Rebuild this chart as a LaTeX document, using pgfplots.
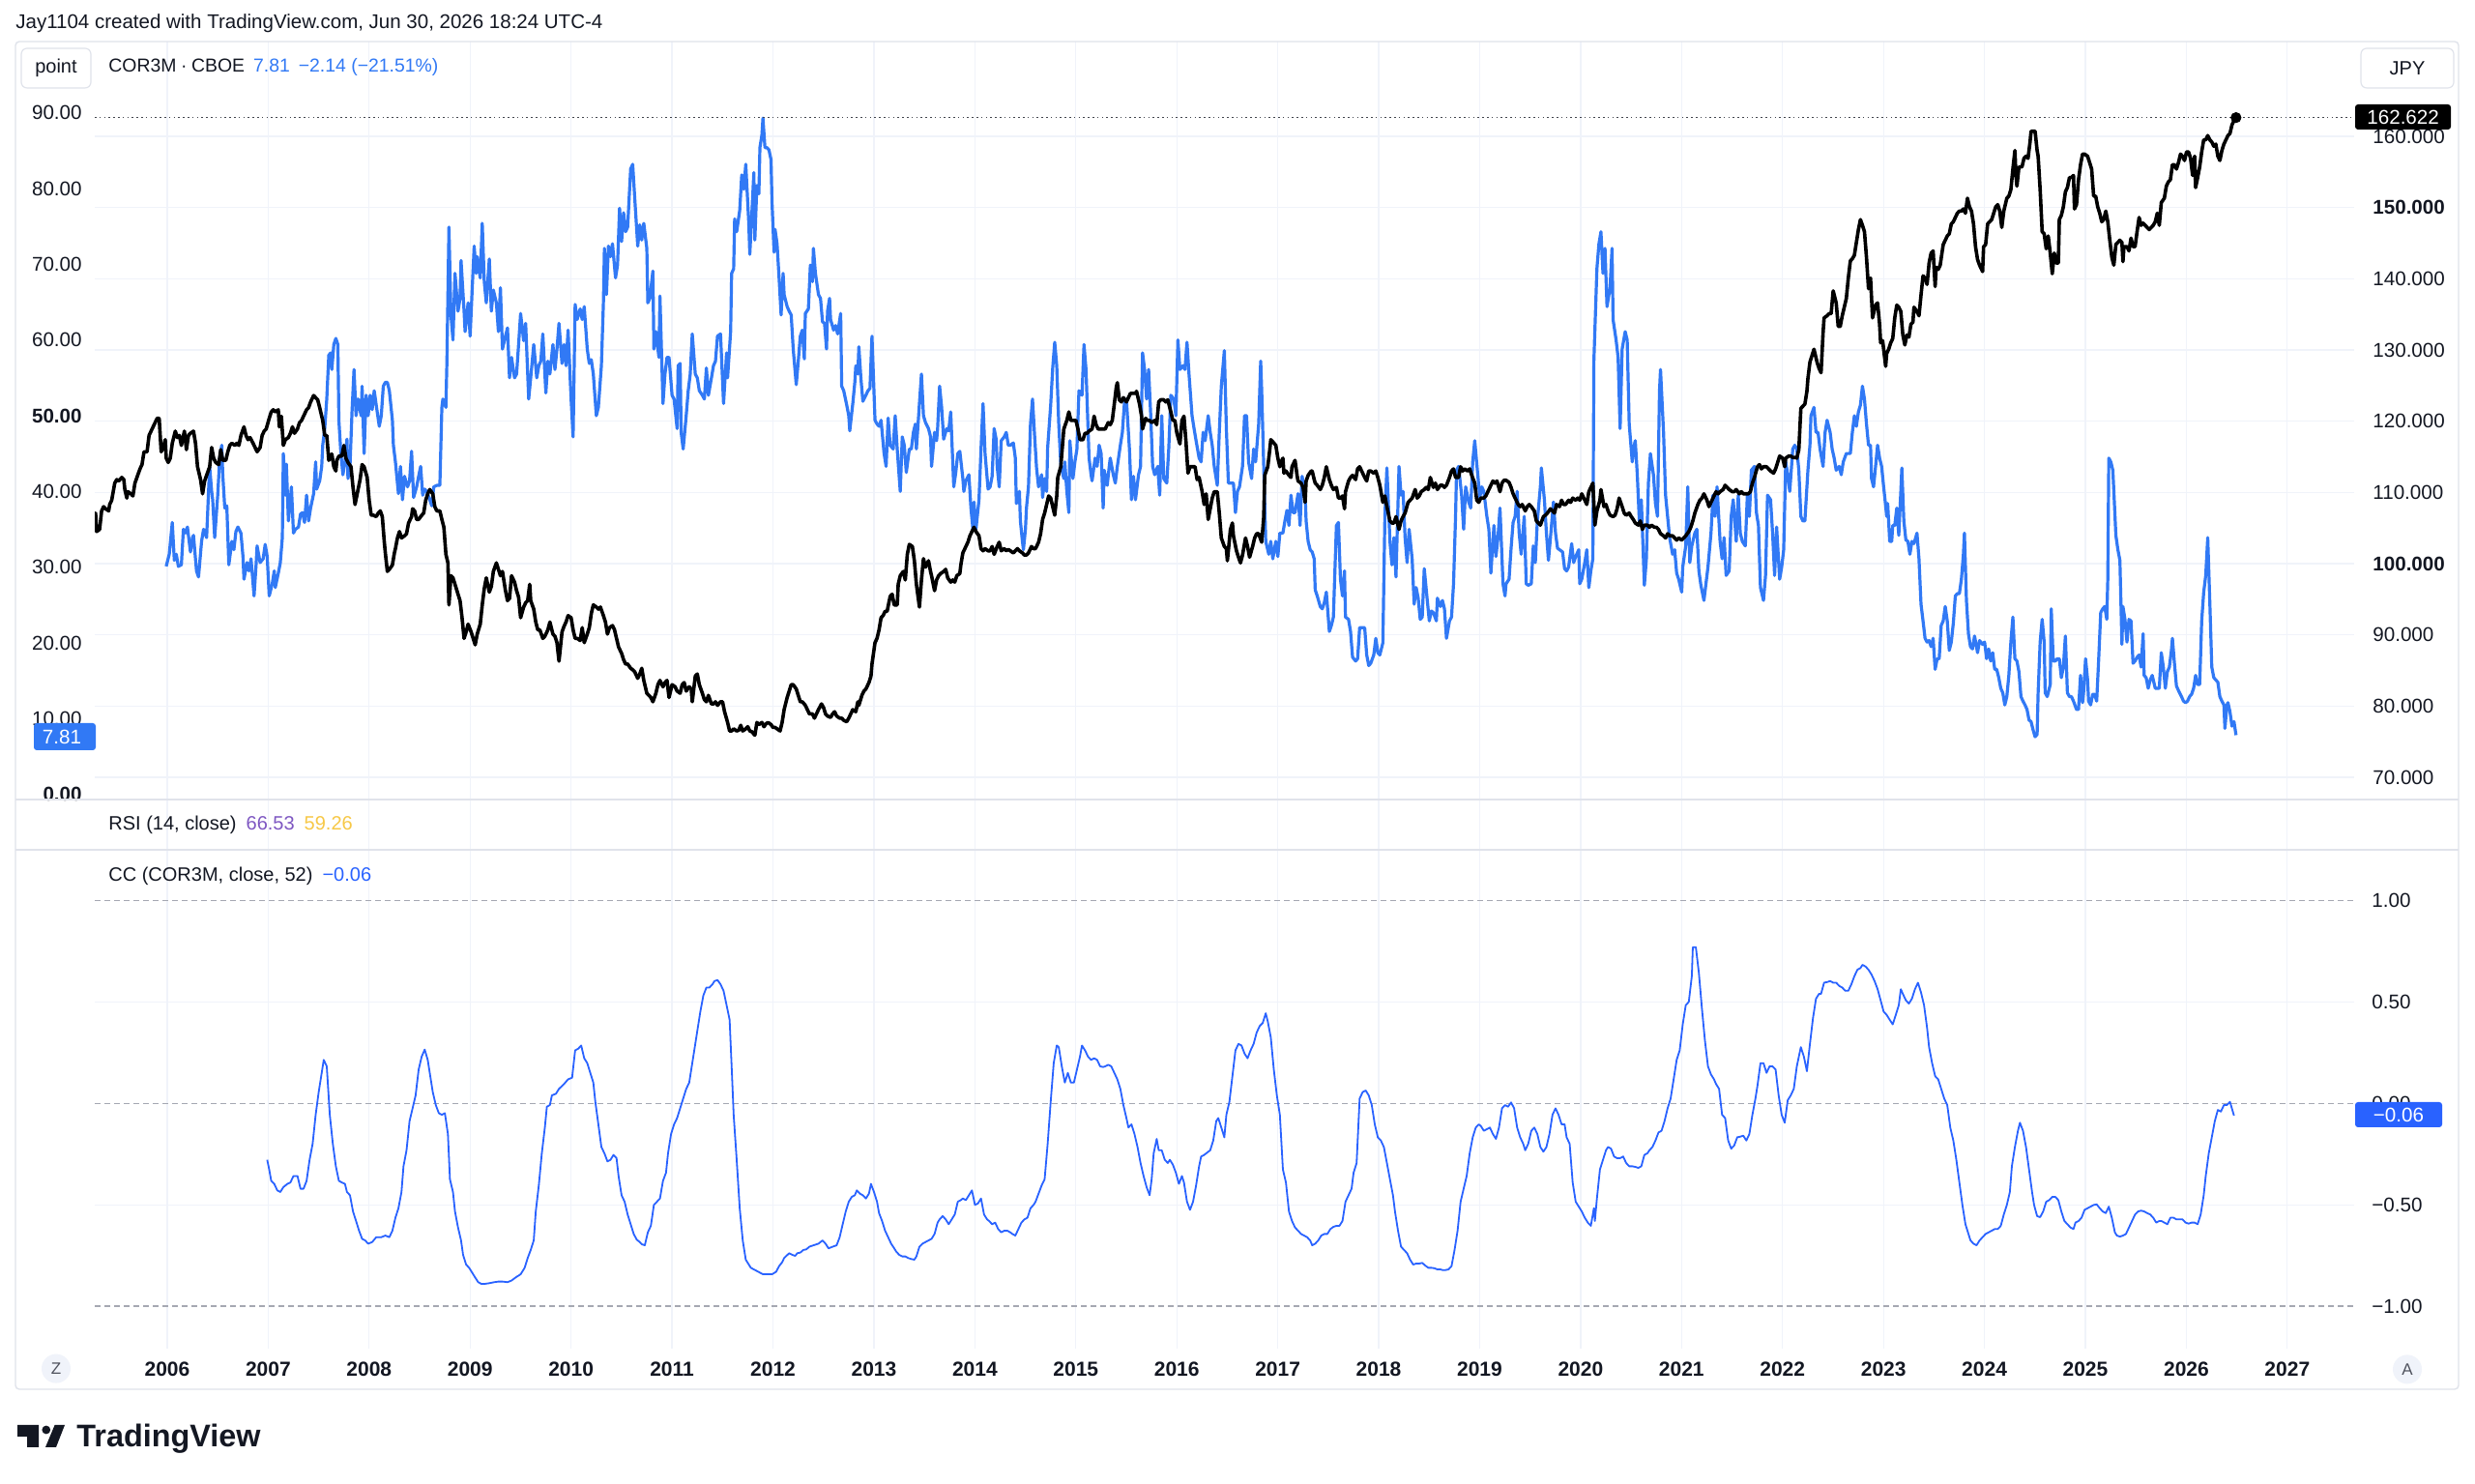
\documentclass[border=0pt]{standalone}
\usepackage{fontspec}
\setmainfont{Liberation Sans}
\usepackage{pgfplots}
\pgfplotsset{compat=1.18}
\definecolor{tvtext}{RGB}{19,23,34}
\definecolor{tvgrid}{RGB}{240,243,250}
\definecolor{tvframe}{RGB}{224,227,235}
\definecolor{tvblue}{RGB}{49,121,245}
\definecolor{ccblue}{RGB}{41,98,255}
\definecolor{tvdash}{RGB}{165,168,178}
\definecolor{rsipurple}{RGB}{126,87,194}
\definecolor{rsiyellow}{RGB}{247,200,70}
\definecolor{btnfill}{RGB}{240,243,250}
\definecolor{tvgray}{RGB}{80,83,94}
\pgfplotsset{
 tvbase/.style={scale only axis, anchor=south west, width=1168.5pt,
   xmin=2005.282, xmax=2027.66,
   axis line style={draw=none}, major tick length=0pt, tick style={draw=none},
   xtick={2006,...,2027},
   tick label style={font=\fontsize{10.3}{12}\selectfont, text=tvtext}},
}
\begin{document}
\begin{tikzpicture}[x=1pt,y=1pt]
\useasboundingbox (0pt,0pt) rectangle (1280pt,767.5pt);
\fill[white] (0pt,0pt) rectangle (1280pt,767.5pt);

% ---------------- CC pane ----------------
\begin{axis}[tvbase, at={(49pt,70pt)}, height=284pt, ymin=-1.21, ymax=1.5,
  xticklabels={2006,2007,2008,2009,2010,2011,2012,2013,2014,2015,2016,2017,2018,2019,2020,2021,2022,2023,2024,2025,2026,2027},
  xticklabel style={font=\bfseries\fontsize{10.5}{12}\selectfont, anchor=center, inner sep=0pt, yshift=-10.5pt},
  xmajorgrids, ymajorgrids, grid style={tvgrid, line width=0.6pt},
  ytick={-0.5,0.5}, yticklabels={−0.50,0.50},
  extra y ticks={-1,0,1}, extra y tick labels={−1.00,0.00,1.00},
  extra y tick style={grid=none},
  yticklabel pos=right,
  yticklabel style={anchor=west, inner sep=0pt, xshift=9pt}]
\addplot[tvdash, line width=0.6pt, dash pattern=on 3pt off 2pt] coordinates {(2005.282,1) (2027.66,1)};
\addplot[tvdash, line width=0.6pt, dash pattern=on 3pt off 2pt] coordinates {(2005.282,0) (2027.66,0)};
\addplot[tvdash, line width=0.6pt, dash pattern=on 3pt off 2pt] coordinates {(2005.282,-1) (2027.66,-1)};
\addplot[ccblue, line width=0.9pt, line join=round] table {
2006.99 -0.278
2007.01 -0.326
2007.03 -0.382
2007.06 -0.397
2007.09 -0.429
2007.12 -0.437
2007.15 -0.413
2007.19 -0.397
2007.22 -0.390
2007.25 -0.358
2007.29 -0.358
2007.32 -0.421
2007.35 -0.421
2007.38 -0.382
2007.41 -0.278
2007.44 -0.199
2007.47 -0.056
2007.50 0.056
2007.53 0.151
2007.55 0.215
2007.58 0.183
2007.61 -0.056
2007.64 -0.199
2007.67 -0.310
2007.70 -0.382
2007.73 -0.390
2007.76 -0.397
2007.78 -0.437
2007.81 -0.453
2007.84 -0.533
2007.87 -0.580
2007.90 -0.628
2007.93 -0.668
2007.96 -0.676
2007.99 -0.692
2008.03 -0.684
2008.07 -0.660
2008.12 -0.660
2008.16 -0.652
2008.20 -0.660
2008.23 -0.628
2008.26 -0.564
2008.29 -0.517
2008.32 -0.437
2008.34 -0.310
2008.37 -0.231
2008.40 -0.087
2008.43 -0.024
2008.46 0.040
2008.49 0.167
2008.52 0.231
2008.55 0.266
2008.58 0.215
2008.60 0.151
2008.63 0.056
2008.66 -0.008
2008.69 -0.048
2008.72 -0.056
2008.75 -0.048
2008.78 -0.151
2008.80 -0.374
2008.83 -0.437
2008.85 -0.533
2008.88 -0.612
2008.91 -0.676
2008.93 -0.747
2008.96 -0.795
2008.99 -0.811
2009.02 -0.835
2009.05 -0.859
2009.08 -0.882
2009.11 -0.890
2009.15 -0.890
2009.19 -0.887
2009.24 -0.882
2009.28 -0.879
2009.32 -0.879
2009.37 -0.882
2009.41 -0.874
2009.45 -0.859
2009.50 -0.843
2009.54 -0.811
2009.57 -0.763
2009.60 -0.723
2009.63 -0.676
2009.65 -0.533
2009.68 -0.405
2009.71 -0.246
2009.74 -0.119
2009.76 -0.016
2009.79 -0.008
2009.81 0.040
2009.85 0.048
2009.88 0.072
2009.93 0.096
2009.97 0.119
2010.01 0.127
2010.04 0.262
2010.07 0.270
2010.10 0.286
2010.13 0.223
2010.16 0.199
2010.19 0.151
2010.22 0.103
2010.24 0.008
2010.27 -0.103
2010.30 -0.215
2010.33 -0.246
2010.36 -0.286
2010.39 -0.278
2010.42 -0.254
2010.45 -0.270
2010.47 -0.358
2010.50 -0.453
2010.53 -0.485
2010.56 -0.548
2010.59 -0.596
2010.62 -0.644
2010.65 -0.672
2010.68 -0.684
2010.70 -0.695
2010.73 -0.700
2010.76 -0.636
2010.79 -0.604
2010.82 -0.501
2010.85 -0.485
2010.88 -0.469
2010.91 -0.382
2010.94 -0.342
2010.96 -0.246
2010.99 -0.151
2011.02 -0.103
2011.05 -0.072
2011.08 -0.024
2011.11 0.024
2011.14 0.072
2011.17 0.103
2011.19 0.167
2011.22 0.262
2011.25 0.358
2011.28 0.453
2011.31 0.533
2011.34 0.572
2011.37 0.572
2011.40 0.588
2011.42 0.604
2011.45 0.609
2011.48 0.588
2011.51 0.556
2011.54 0.485
2011.57 0.413
2011.59 0.183
2011.61 -0.056
2011.64 -0.278
2011.67 -0.517
2011.70 -0.676
2011.73 -0.771
2011.76 -0.795
2011.78 -0.811
2011.81 -0.819
2011.84 -0.827
2011.87 -0.835
2011.90 -0.843
2011.94 -0.843
2011.99 -0.843
2012.03 -0.831
2012.06 -0.803
2012.09 -0.784
2012.11 -0.763
2012.16 -0.739
2012.19 -0.747
2012.22 -0.752
2012.24 -0.739
2012.27 -0.736
2012.30 -0.723
2012.33 -0.720
2012.36 -0.707
2012.40 -0.700
2012.45 -0.692
2012.49 -0.676
2012.52 -0.692
2012.55 -0.715
2012.59 -0.707
2012.63 -0.700
2012.66 -0.660
2012.69 -0.596
2012.72 -0.533
2012.75 -0.485
2012.78 -0.461
2012.81 -0.453
2012.83 -0.429
2012.86 -0.445
2012.89 -0.453
2012.92 -0.469
2012.95 -0.445
2012.97 -0.397
2013.00 -0.437
2013.03 -0.485
2013.05 -0.541
2013.08 -0.580
2013.11 -0.628
2013.14 -0.660
2013.17 -0.692
2013.19 -0.707
2013.22 -0.731
2013.25 -0.747
2013.28 -0.755
2013.31 -0.755
2013.34 -0.763
2013.37 -0.768
2013.40 -0.771
2013.42 -0.755
2013.45 -0.707
2013.48 -0.692
2013.51 -0.684
2013.54 -0.676
2013.57 -0.668
2013.60 -0.644
2013.63 -0.588
2013.65 -0.572
2013.68 -0.556
2013.71 -0.572
2013.74 -0.596
2013.77 -0.572
2013.80 -0.548
2013.83 -0.485
2013.86 -0.477
2013.88 -0.469
2013.91 -0.477
2013.94 -0.453
2013.97 -0.429
2014.00 -0.501
2014.03 -0.493
2014.06 -0.469
2014.09 -0.548
2014.12 -0.572
2014.14 -0.580
2014.17 -0.596
2014.20 -0.588
2014.23 -0.620
2014.26 -0.636
2014.29 -0.628
2014.32 -0.628
2014.35 -0.636
2014.37 -0.644
2014.40 -0.652
2014.43 -0.620
2014.46 -0.588
2014.49 -0.572
2014.52 -0.564
2014.55 -0.517
2014.58 -0.501
2014.60 -0.485
2014.63 -0.445
2014.66 -0.405
2014.69 -0.374
2014.72 -0.199
2014.75 0.008
2014.78 0.199
2014.81 0.286
2014.83 0.278
2014.86 0.183
2014.89 0.103
2014.92 0.151
2014.95 0.103
2014.98 0.103
2015.01 0.167
2015.04 0.231
2015.06 0.286
2015.09 0.262
2015.12 0.231
2015.15 0.215
2015.18 0.223
2015.21 0.215
2015.24 0.183
2015.27 0.180
2015.29 0.183
2015.32 0.191
2015.35 0.183
2015.38 0.151
2015.41 0.119
2015.44 0.072
2015.47 -0.008
2015.50 -0.072
2015.52 -0.119
2015.55 -0.103
2015.58 -0.151
2015.61 -0.215
2015.64 -0.294
2015.67 -0.358
2015.70 -0.413
2015.73 -0.453
2015.75 -0.374
2015.77 -0.246
2015.80 -0.175
2015.82 -0.231
2015.85 -0.231
2015.88 -0.278
2015.91 -0.294
2015.93 -0.278
2015.96 -0.302
2015.99 -0.342
2016.02 -0.397
2016.05 -0.358
2016.07 -0.390
2016.10 -0.485
2016.13 -0.525
2016.16 -0.485
2016.19 -0.405
2016.22 -0.310
2016.24 -0.262
2016.27 -0.254
2016.33 -0.231
2016.36 -0.183
2016.39 -0.087
2016.41 -0.072
2016.44 -0.119
2016.47 -0.167
2016.49 -0.056
2016.52 0.008
2016.55 0.135
2016.58 0.262
2016.61 0.294
2016.64 0.286
2016.67 0.246
2016.70 0.223
2016.73 0.262
2016.76 0.294
2016.79 0.350
2016.82 0.382
2016.85 0.397
2016.88 0.445
2016.90 0.405
2016.93 0.326
2016.96 0.167
2016.99 0.040
2017.02 -0.056
2017.05 -0.326
2017.08 -0.390
2017.11 -0.533
2017.14 -0.580
2017.17 -0.612
2017.20 -0.628
2017.23 -0.644
2017.26 -0.652
2017.29 -0.660
2017.32 -0.676
2017.34 -0.700
2017.37 -0.692
2017.40 -0.676
2017.43 -0.652
2017.46 -0.644
2017.49 -0.644
2017.52 -0.620
2017.55 -0.609
2017.58 -0.604
2017.61 -0.604
2017.64 -0.580
2017.67 -0.485
2017.70 -0.453
2017.73 -0.421
2017.75 -0.342
2017.78 -0.294
2017.81 0.024
2017.84 0.056
2017.87 0.064
2017.90 0.040
2017.93 -0.008
2017.96 -0.103
2017.99 -0.167
2018.02 -0.183
2018.05 -0.215
2018.08 -0.294
2018.11 -0.374
2018.14 -0.453
2018.16 -0.533
2018.19 -0.628
2018.22 -0.707
2018.25 -0.723
2018.28 -0.739
2018.31 -0.771
2018.34 -0.795
2018.37 -0.790
2018.40 -0.790
2018.43 -0.787
2018.46 -0.800
2018.49 -0.811
2018.52 -0.811
2018.55 -0.813
2018.58 -0.819
2018.61 -0.819
2018.63 -0.822
2018.66 -0.822
2018.69 -0.819
2018.72 -0.803
2018.75 -0.723
2018.78 -0.628
2018.81 -0.485
2018.84 -0.421
2018.87 -0.358
2018.90 -0.246
2018.93 -0.167
2018.96 -0.119
2018.99 -0.103
2019.01 -0.111
2019.04 -0.135
2019.07 -0.127
2019.10 -0.119
2019.13 -0.151
2019.16 -0.175
2019.19 -0.119
2019.22 -0.024
2019.25 -0.008
2019.28 -0.016
2019.31 0.005
2019.34 -0.024
2019.37 -0.119
2019.40 -0.167
2019.43 -0.199
2019.45 -0.231
2019.48 -0.199
2019.51 -0.135
2019.54 -0.119
2019.57 -0.151
2019.60 -0.215
2019.63 -0.238
2019.66 -0.215
2019.69 -0.151
2019.72 -0.056
2019.75 -0.024
2019.78 -0.056
2019.81 -0.103
2019.84 -0.103
2019.86 -0.167
2019.89 -0.199
2019.92 -0.390
2019.95 -0.485
2019.98 -0.509
2020.01 -0.533
2020.04 -0.564
2020.07 -0.588
2020.10 -0.604
2020.13 -0.517
2020.14 -0.580
2020.16 -0.469
2020.19 -0.326
2020.22 -0.278
2020.25 -0.231
2020.27 -0.215
2020.30 -0.223
2020.33 -0.262
2020.36 -0.270
2020.39 -0.270
2020.42 -0.262
2020.45 -0.294
2020.48 -0.310
2020.51 -0.310
2020.54 -0.313
2020.57 -0.318
2020.60 -0.310
2020.63 -0.254
2020.66 -0.246
2020.68 -0.231
2020.71 -0.215
2020.74 -0.183
2020.77 -0.143
2020.80 -0.135
2020.83 -0.087
2020.86 -0.024
2020.89 0.024
2020.92 0.119
2020.95 0.215
2020.98 0.262
2021.01 0.390
2021.04 0.485
2021.07 0.501
2021.10 0.628
2021.11 0.771
2021.14 0.771
2021.17 0.644
2021.20 0.469
2021.23 0.310
2021.26 0.183
2021.29 0.143
2021.32 0.119
2021.34 0.096
2021.37 0.072
2021.40 -0.056
2021.43 -0.072
2021.46 -0.183
2021.49 -0.223
2021.52 -0.207
2021.55 -0.167
2021.58 -0.164
2021.61 -0.159
2021.64 -0.183
2021.67 -0.151
2021.70 -0.056
2021.73 0.024
2021.75 0.087
2021.78 0.199
2021.81 0.199
2021.84 0.151
2021.87 0.183
2021.90 0.183
2021.93 0.167
2021.96 0.040
2021.99 -0.056
2022.02 -0.095
2022.05 0.016
2022.08 0.040
2022.11 0.072
2022.14 0.183
2022.16 0.231
2022.18 0.278
2022.21 0.231
2022.24 0.159
2022.27 0.294
2022.30 0.421
2022.33 0.517
2022.36 0.541
2022.38 0.541
2022.41 0.596
2022.44 0.599
2022.47 0.604
2022.50 0.596
2022.53 0.596
2022.56 0.580
2022.59 0.572
2022.62 0.556
2022.65 0.556
2022.68 0.588
2022.71 0.628
2022.74 0.660
2022.77 0.668
2022.79 0.684
2022.82 0.676
2022.85 0.660
2022.88 0.636
2022.91 0.604
2022.94 0.564
2022.97 0.509
2023.00 0.453
2023.03 0.437
2023.06 0.413
2023.09 0.390
2023.12 0.437
2023.15 0.485
2023.17 0.564
2023.19 0.541
2023.22 0.509
2023.25 0.493
2023.28 0.517
2023.31 0.564
2023.34 0.596
2023.37 0.548
2023.40 0.485
2023.43 0.374
2023.45 0.278
2023.48 0.199
2023.51 0.135
2023.54 0.119
2023.57 0.072
2023.60 0.024
2023.63 -0.008
2023.66 -0.119
2023.69 -0.183
2023.72 -0.278
2023.75 -0.390
2023.78 -0.501
2023.81 -0.596
2023.84 -0.644
2023.86 -0.676
2023.89 -0.692
2023.92 -0.700
2023.95 -0.676
2023.98 -0.660
2024.01 -0.644
2024.04 -0.636
2024.07 -0.628
2024.10 -0.620
2024.13 -0.620
2024.16 -0.604
2024.19 -0.548
2024.22 -0.501
2024.25 -0.437
2024.27 -0.310
2024.30 -0.215
2024.33 -0.135
2024.35 -0.095
2024.38 -0.135
2024.41 -0.215
2024.44 -0.326
2024.47 -0.437
2024.49 -0.501
2024.52 -0.556
2024.55 -0.561
2024.58 -0.533
2024.61 -0.485
2024.64 -0.477
2024.67 -0.461
2024.70 -0.461
2024.73 -0.477
2024.76 -0.533
2024.79 -0.580
2024.82 -0.596
2024.85 -0.612
2024.88 -0.620
2024.90 -0.588
2024.93 -0.580
2024.96 -0.564
2024.99 -0.525
2025.02 -0.517
2025.05 -0.509
2025.08 -0.501
2025.11 -0.498
2025.14 -0.517
2025.17 -0.533
2025.20 -0.541
2025.23 -0.509
2025.26 -0.564
2025.29 -0.636
2025.31 -0.652
2025.34 -0.657
2025.37 -0.652
2025.40 -0.644
2025.43 -0.612
2025.46 -0.580
2025.49 -0.548
2025.52 -0.533
2025.55 -0.529
2025.58 -0.533
2025.61 -0.541
2025.64 -0.548
2025.67 -0.564
2025.70 -0.588
2025.73 -0.580
2025.75 -0.580
2025.78 -0.588
2025.81 -0.596
2025.84 -0.564
2025.87 -0.564
2025.90 -0.572
2025.93 -0.572
2025.96 -0.572
2025.99 -0.588
2026.02 -0.593
2026.05 -0.588
2026.08 -0.588
2026.11 -0.596
2026.14 -0.548
2026.17 -0.453
2026.19 -0.358
2026.22 -0.246
2026.25 -0.167
2026.28 -0.087
2026.31 -0.032
2026.34 -0.040
2026.37 -0.008
2026.40 -0.008
2026.43 0.008
2026.47 -0.06
};
\end{axis}

% ---------------- top pane: grid + right scale ----------------
\begin{axis}[tvbase, at={(49pt,354pt)}, height=392pt, ymin=66.878, ymax=173.30,
  xticklabels={}, xmajorgrids, ymajorgrids, grid style={tvgrid, line width=0.6pt},
  ytick={70,80,...,160},
  yticklabels={70.000,80.000,90.000,\textbf{100.000},110.000,120.000,130.000,140.000,\textbf{150.000},160.000},
  yticklabel pos=right,
  yticklabel style={anchor=west, inner sep=0pt, xshift=9.5pt}]
\addplot[draw=none] coordinates {(2010,100)};
\end{axis}

% ---------------- top pane: COR3M (left scale) ----------------
\begin{axis}[tvbase, at={(49pt,354pt)}, height=392pt, ymin=-0.69, ymax=99.41,
  xticklabels={},
  ytick={0,10,...,90},
  yticklabels={\textbf{0.00},10.00,20.00,30.00,40.00,\textbf{50.00},60.00,70.00,80.00,90.00},
  yticklabel style={anchor=east, inner sep=0pt, xshift=-6.5pt}]
\addplot[tvblue, line width=1.6pt, line join=round] table {
2005.99 30.1
2006.02 31.7
2006.05 35.9
2006.07 30.9
2006.09 31.7
2006.11 30.1
2006.14 30.3
2006.16 35.0
2006.18 34.5
2006.20 35.3
2006.23 32.0
2006.25 33.9
2006.26 34.2
2006.29 29.5
2006.31 28.7
2006.34 33.4
2006.36 35.0
2006.39 33.9
2006.41 40.3
2006.42 43.3
2006.44 40.0
2006.45 38.9
2006.47 33.9
2006.50 39.5
2006.52 44.4
2006.54 46.1
2006.55 42.2
2006.57 37.8
2006.59 38.1
2006.61 30.3
2006.64 33.4
2006.66 32.3
2006.68 34.7
2006.70 35.3
2006.73 34.5
2006.75 31.4
2006.76 28.4
2006.79 30.6
2006.81 29.5
2006.83 31.1
2006.86 26.2
2006.88 30.3
2006.89 32.8
2006.92 30.6
2006.95 31.1
2006.97 33.0
2006.99 31.4
2007.01 26.2
2007.04 27.8
2007.06 29.5
2007.07 27.3
2007.10 29.2
2007.12 30.6
2007.14 33.9
2007.15 45.0
2007.17 39.5
2007.18 43.6
2007.20 36.1
2007.23 40.6
2007.25 34.5
2007.27 35.0
2007.30 35.3
2007.32 37.0
2007.34 37.2
2007.36 35.9
2007.38 39.5
2007.40 36.1
2007.42 37.8
2007.45 39.7
2007.47 43.9
2007.48 40.3
2007.51 41.4
2007.53 43.3
2007.54 46.1
2007.56 48.3
2007.58 52.2
2007.60 58.0
2007.62 58.3
2007.63 56.1
2007.65 59.4
2007.67 60.2
2007.69 59.4
2007.70 49.4
2007.72 45.0
2007.74 42.2
2007.76 43.9
2007.78 46.9
2007.79 41.7
2007.81 43.3
2007.83 50.5
2007.85 56.1
2007.87 50.0
2007.89 52.2
2007.92 50.0
2007.93 53.9
2007.95 45.0
2007.97 52.7
2007.99 50.0
2008.01 52.7
2008.03 50.8
2008.05 53.3
2008.07 51.4
2008.10 48.6
2008.12 50.0
2008.14 53.9
2008.16 54.4
2008.18 54.4
2008.20 53.3
2008.23 49.4
2008.24 46.1
2008.26 43.9
2008.29 39.7
2008.31 43.3
2008.33 38.9
2008.35 42.0
2008.38 40.6
2008.40 41.4
2008.42 45.3
2008.44 39.2
2008.47 40.6
2008.49 42.0
2008.51 43.3
2008.53 39.5
2008.55 40.3
2008.57 40.0
2008.60 38.9
2008.62 38.1
2008.64 40.6
2008.67 40.8
2008.70 40.8
2008.72 51.1
2008.73 52.2
2008.76 51.1
2008.77 57.2
2008.79 74.9
2008.81 63.3
2008.83 60.0
2008.85 68.8
2008.88 63.8
2008.90 65.5
2008.91 70.5
2008.94 63.8
2008.95 61.1
2008.98 64.9
2009.00 60.5
2009.02 66.6
2009.04 72.4
2009.06 68.8
2009.07 71.0
2009.10 68.2
2009.12 75.4
2009.14 67.7
2009.16 64.9
2009.19 70.7
2009.21 63.8
2009.23 66.6
2009.26 64.9
2009.28 61.1
2009.30 66.9
2009.32 58.8
2009.35 60.5
2009.37 61.6
2009.39 55.0
2009.41 57.7
2009.44 55.0
2009.46 55.5
2009.48 59.4
2009.50 63.5
2009.53 59.9
2009.55 62.2
2009.58 52.2
2009.60 55.0
2009.63 59.4
2009.66 55.0
2009.68 56.6
2009.70 57.2
2009.72 60.8
2009.75 53.0
2009.77 57.2
2009.79 55.5
2009.82 59.4
2009.84 56.1
2009.86 58.8
2009.88 62.2
2009.91 56.9
2009.93 59.4
2009.95 56.6
2009.97 61.3
2010.00 52.2
2010.02 47.2
2010.04 64.7
2010.06 62.7
2010.09 64.1
2010.11 62.7
2010.13 64.4
2010.16 58.8
2010.18 56.9
2010.20 57.4
2010.22 55.5
2010.25 50.0
2010.27 51.1
2010.30 56.6
2010.32 64.9
2010.33 72.1
2010.35 66.0
2010.37 72.4
2010.39 71.0
2010.41 72.7
2010.44 68.2
2010.46 69.9
2010.48 77.4
2010.50 73.0
2010.52 76.8
2010.54 74.3
2010.56 74.9
2010.59 82.6
2010.61 83.2
2010.63 78.8
2010.66 72.4
2010.68 75.2
2010.70 73.2
2010.72 75.4
2010.75 72.1
2010.76 64.9
2010.78 65.5
2010.81 69.1
2010.82 58.8
2010.84 61.1
2010.87 57.7
2010.88 65.8
2010.91 51.6
2010.93 55.5
2010.95 57.7
2010.97 57.7
2011.00 52.7
2011.02 52.2
2011.05 48.3
2011.06 56.6
2011.08 56.9
2011.09 47.8
2011.11 45.6
2011.14 50.0
2011.16 53.3
2011.18 55.5
2011.20 60.8
2011.23 55.5
2011.25 55.0
2011.27 53.3
2011.30 52.7
2011.32 52.2
2011.34 56.3
2011.36 52.7
2011.39 55.0
2011.41 56.6
2011.43 57.2
2011.45 60.5
2011.48 60.8
2011.49 57.7
2011.51 51.6
2011.54 58.3
2011.55 55.0
2011.58 61.1
2011.59 68.8
2011.61 69.4
2011.62 76.0
2011.64 74.3
2011.67 77.1
2011.69 81.8
2011.71 79.9
2011.73 83.2
2011.76 75.4
2011.77 71.3
2011.79 76.6
2011.81 82.1
2011.82 73.2
2011.84 80.4
2011.86 79.3
2011.87 85.4
2011.89 87.1
2011.90 89.3
2011.92 85.4
2011.94 85.4
2011.96 85.1
2011.98 83.8
2011.99 78.2
2012.01 71.6
2012.02 74.6
2012.04 72.7
2012.06 68.2
2012.08 63.3
2012.10 68.8
2012.11 66.0
2012.14 64.4
2012.16 63.8
2012.18 63.3
2012.20 58.8
2012.23 54.1
2012.25 57.2
2012.27 60.5
2012.29 61.3
2012.31 57.5
2012.32 63.5
2012.35 64.1
2012.37 69.9
2012.39 67.7
2012.40 72.1
2012.42 68.8
2012.45 66.0
2012.47 65.5
2012.49 62.4
2012.51 62.2
2012.53 58.8
2012.54 63.8
2012.56 65.5
2012.57 62.7
2012.60 61.3
2012.62 61.9
2012.64 60.8
2012.67 63.5
2012.68 53.9
2012.70 53.3
2012.73 51.4
2012.75 50.0
2012.76 48.0
2012.79 51.6
2012.81 54.4
2012.82 56.6
2012.84 55.5
2012.85 59.1
2012.87 55.0
2012.89 51.9
2012.92 52.7
2012.94 53.3
2012.96 53.6
2012.98 60.5
2013.01 49.4
2013.03 48.9
2013.05 48.6
2013.07 49.4
2013.10 45.0
2013.12 43.3
2013.14 49.7
2013.16 46.1
2013.19 45.6
2013.21 50.0
2013.23 45.6
2013.26 40.0
2013.28 47.2
2013.30 46.1
2013.32 42.5
2013.35 45.6
2013.37 45.6
2013.39 47.8
2013.41 48.9
2013.42 45.6
2013.45 51.6
2013.47 55.5
2013.49 50.0
2013.51 49.1
2013.54 48.3
2013.56 47.2
2013.57 43.3
2013.60 47.8
2013.62 46.7
2013.63 48.3
2013.65 53.9
2013.67 51.1
2013.69 46.9
2013.72 48.3
2013.74 48.0
2013.76 50.5
2013.79 40.6
2013.81 42.5
2013.83 45.0
2013.85 45.3
2013.88 41.7
2013.89 40.0
2013.91 41.4
2013.94 42.2
2013.96 37.8
2013.98 35.0
2013.99 38.6
2014.01 35.0
2014.04 38.9
2014.06 45.6
2014.08 51.6
2014.10 45.0
2014.13 40.3
2014.15 40.6
2014.17 42.0
2014.19 48.3
2014.21 46.9
2014.22 43.3
2014.24 40.6
2014.26 46.7
2014.29 47.2
2014.31 47.8
2014.33 46.1
2014.35 46.1
2014.38 46.4
2014.40 44.4
2014.41 38.4
2014.44 40.0
2014.45 36.1
2014.47 33.4
2014.48 32.3
2014.50 35.0
2014.51 37.8
2014.53 40.6
2014.55 48.9
2014.57 52.2
2014.59 47.5
2014.61 43.1
2014.63 40.6
2014.66 42.2
2014.67 39.2
2014.69 41.7
2014.71 40.0
2014.72 45.8
2014.75 51.4
2014.77 56.3
2014.79 59.7
2014.81 56.6
2014.83 48.9
2014.85 43.6
2014.88 41.7
2014.89 43.9
2014.91 40.0
2014.93 37.2
2014.94 46.7
2014.97 41.7
2014.99 43.9
2015.01 45.6
2015.03 53.3
2015.06 52.7
2015.08 59.4
2015.10 56.1
2015.13 44.4
2015.15 42.2
2015.16 41.4
2015.19 44.4
2015.21 43.3
2015.23 46.1
2015.25 45.0
2015.27 37.8
2015.28 42.8
2015.31 40.8
2015.33 43.3
2015.34 44.4
2015.37 42.2
2015.39 41.1
2015.41 43.3
2015.44 46.1
2015.46 47.8
2015.48 51.6
2015.50 52.2
2015.53 45.6
2015.55 38.9
2015.57 42.0
2015.59 38.9
2015.62 42.2
2015.64 43.3
2015.66 58.3
2015.68 56.1
2015.70 52.2
2015.72 56.1
2015.74 50.3
2015.76 43.3
2015.78 42.2
2015.81 43.3
2015.83 39.5
2015.85 50.0
2015.87 41.7
2015.90 41.1
2015.92 45.8
2015.94 52.7
2015.97 52.2
2015.99 50.0
2016.01 60.0
2016.03 56.1
2016.06 56.6
2016.08 56.1
2016.10 59.7
2016.12 55.5
2016.15 50.0
2016.17 48.3
2016.19 46.7
2016.22 44.4
2016.24 43.9
2016.26 47.8
2016.28 46.7
2016.31 50.0
2016.33 47.8
2016.35 46.1
2016.37 43.3
2016.40 40.8
2016.42 47.8
2016.44 53.9
2016.47 58.6
2016.49 48.3
2016.51 41.1
2016.53 41.1
2016.56 41.1
2016.58 37.2
2016.60 40.0
2016.62 40.6
2016.65 43.3
2016.67 50.0
2016.69 50.0
2016.71 43.9
2016.74 41.7
2016.76 45.6
2016.78 43.9
2016.81 48.9
2016.83 57.2
2016.84 53.3
2016.86 43.3
2016.88 33.4
2016.91 31.7
2016.93 33.4
2016.95 31.1
2016.98 33.4
2017.00 31.4
2017.02 34.5
2017.05 34.5
2017.07 36.1
2017.09 37.5
2017.11 35.5
2017.13 39.5
2017.15 37.2
2017.17 37.2
2017.20 39.7
2017.22 35.5
2017.24 42.0
2017.27 39.7
2017.28 36.1
2017.30 33.4
2017.32 32.3
2017.34 32.0
2017.36 31.1
2017.37 27.0
2017.39 26.2
2017.42 24.8
2017.44 24.5
2017.46 25.3
2017.48 26.7
2017.51 21.5
2017.53 22.3
2017.55 23.4
2017.58 35.5
2017.60 35.9
2017.62 28.4
2017.64 26.2
2017.66 29.5
2017.67 23.4
2017.70 23.1
2017.72 21.5
2017.74 18.1
2017.77 17.6
2017.79 17.9
2017.81 22.0
2017.83 22.0
2017.86 22.0
2017.88 18.4
2017.90 17.0
2017.92 17.3
2017.95 18.4
2017.97 20.6
2017.99 18.7
2018.01 18.4
2018.04 20.0
2018.06 36.7
2018.08 43.1
2018.11 33.4
2018.13 30.3
2018.15 33.9
2018.17 28.7
2018.20 43.3
2018.22 39.5
2018.24 40.0
2018.26 33.9
2018.28 30.6
2018.30 35.0
2018.33 31.1
2018.35 25.1
2018.37 27.3
2018.39 25.9
2018.41 23.1
2018.43 23.4
2018.45 29.8
2018.48 25.6
2018.50 22.9
2018.52 24.2
2018.54 24.0
2018.57 22.9
2018.58 25.9
2018.61 24.8
2018.63 25.6
2018.65 24.5
2018.67 20.6
2018.70 22.9
2018.72 23.4
2018.74 27.8
2018.76 36.7
2018.77 42.8
2018.79 43.3
2018.82 39.5
2018.84 35.0
2018.86 40.6
2018.89 38.6
2018.91 37.8
2018.93 43.9
2018.95 46.7
2018.98 42.2
2019.00 39.2
2019.02 40.6
2019.04 40.0
2019.07 36.7
2019.09 35.0
2019.11 29.2
2019.14 35.5
2019.16 31.4
2019.18 33.9
2019.20 37.8
2019.23 27.8
2019.25 26.2
2019.26 27.8
2019.29 28.4
2019.31 32.5
2019.33 35.9
2019.35 36.7
2019.37 40.0
2019.39 34.5
2019.41 31.7
2019.44 36.7
2019.46 27.8
2019.48 27.6
2019.51 27.8
2019.53 32.8
2019.55 30.6
2019.57 36.1
2019.60 40.6
2019.61 43.1
2019.64 38.9
2019.66 34.5
2019.68 30.9
2019.70 33.9
2019.73 38.6
2019.75 34.5
2019.77 32.5
2019.79 32.3
2019.82 32.0
2019.84 29.8
2019.86 29.5
2019.88 30.0
2019.91 33.1
2019.93 30.6
2019.95 31.4
2019.98 32.3
2019.99 27.8
2020.01 28.4
2020.04 30.6
2020.06 32.3
2020.08 27.3
2020.10 29.5
2020.12 31.1
2020.13 57.2
2020.16 69.4
2020.18 72.7
2020.20 74.3
2020.22 68.8
2020.24 72.1
2020.26 64.4
2020.29 66.9
2020.31 72.1
2020.32 62.7
2020.35 60.0
2020.37 57.7
2020.39 48.3
2020.41 58.8
2020.44 61.1
2020.46 60.0
2020.48 48.9
2020.51 43.9
2020.53 46.1
2020.54 46.7
2020.56 42.2
2020.58 36.1
2020.60 38.9
2020.63 27.6
2020.65 31.1
2020.67 41.1
2020.69 45.0
2020.72 42.2
2020.74 38.4
2020.76 36.7
2020.78 53.3
2020.79 56.1
2020.82 47.8
2020.84 39.5
2020.86 36.7
2020.88 33.9
2020.91 31.7
2020.93 32.3
2020.95 29.2
2020.97 28.4
2021.00 26.7
2021.01 30.0
2021.04 32.8
2021.06 40.6
2021.08 30.6
2021.10 32.8
2021.13 34.5
2021.15 35.0
2021.17 29.5
2021.19 27.6
2021.22 25.6
2021.24 27.8
2021.26 30.0
2021.29 34.5
2021.31 39.5
2021.33 36.7
2021.35 40.6
2021.38 33.4
2021.40 31.1
2021.42 33.9
2021.44 28.9
2021.47 29.5
2021.49 36.7
2021.51 38.9
2021.54 33.4
2021.56 39.5
2021.58 34.5
2021.60 33.4
2021.63 32.8
2021.65 39.5
2021.67 36.7
2021.69 42.8
2021.72 43.3
2021.74 37.2
2021.76 35.5
2021.78 27.3
2021.81 25.6
2021.83 28.9
2021.85 39.5
2021.88 38.9
2021.90 34.5
2021.92 28.9
2021.94 35.3
2021.97 28.4
2021.99 30.0
2022.01 32.3
2022.03 43.9
2022.05 42.2
2022.07 40.0
2022.10 45.6
2022.12 46.1
2022.14 45.6
2022.16 42.8
2022.18 36.7
2022.20 36.1
2022.22 36.1
2022.25 42.8
2022.27 46.1
2022.28 50.0
2022.31 51.1
2022.33 47.8
2022.35 47.8
2022.37 45.6
2022.40 43.3
2022.42 47.8
2022.44 49.4
2022.47 47.8
2022.49 45.6
2022.51 44.4
2022.53 42.8
2022.56 43.3
2022.58 42.2
2022.60 43.9
2022.63 45.0
2022.65 45.0
2022.67 45.0
2022.69 47.8
2022.71 50.0
2022.73 48.6
2022.75 50.5
2022.77 51.4
2022.79 53.9
2022.81 52.2
2022.83 48.9
2022.85 46.1
2022.87 46.1
2022.88 41.7
2022.90 40.6
2022.92 43.3
2022.94 46.1
2022.96 44.4
2022.98 43.3
2023.00 40.6
2023.02 38.1
2023.03 36.7
2023.04 38.4
2023.06 33.4
2023.08 33.4
2023.09 35.5
2023.11 35.5
2023.13 37.8
2023.15 34.2
2023.17 40.0
2023.18 43.1
2023.20 36.1
2023.22 33.6
2023.24 33.4
2023.26 31.7
2023.28 33.4
2023.30 33.1
2023.33 34.5
2023.35 31.1
2023.37 25.1
2023.39 22.9
2023.41 20.6
2023.43 20.1
2023.45 20.3
2023.47 19.5
2023.49 20.6
2023.51 16.5
2023.53 17.9
2023.55 17.9
2023.57 22.3
2023.59 22.9
2023.61 24.8
2023.63 22.9
2023.65 19.0
2023.67 20.1
2023.69 22.6
2023.71 26.2
2023.73 26.5
2023.75 26.5
2023.77 28.4
2023.79 31.7
2023.80 34.5
2023.82 25.6
2023.84 21.2
2023.86 19.5
2023.88 19.2
2023.90 20.9
2023.92 19.5
2023.93 18.7
2023.95 20.3
2023.98 19.8
2024.00 20.1
2024.02 17.9
2024.04 19.2
2024.06 17.6
2024.08 18.7
2024.10 16.5
2024.12 16.5
2024.14 15.4
2024.16 14.0
2024.18 13.4
2024.20 11.8
2024.22 12.9
2024.24 15.7
2024.26 20.1
2024.28 23.4
2024.30 17.9
2024.32 17.6
2024.34 16.2
2024.36 12.9
2024.38 12.3
2024.40 11.8
2024.42 11.2
2024.44 9.8
2024.46 9.6
2024.48 8.5
2024.50 7.6
2024.52 7.9
2024.53 13.4
2024.55 20.1
2024.57 23.1
2024.59 20.1
2024.60 13.4
2024.62 12.9
2024.65 14.5
2024.66 24.5
2024.68 17.6
2024.70 17.6
2024.72 17.9
2024.74 17.9
2024.76 15.4
2024.78 16.8
2024.80 20.9
2024.82 13.4
2024.84 12.9
2024.86 12.9
2024.88 12.3
2024.91 11.2
2024.93 11.2
2024.95 15.7
2024.97 12.1
2024.98 13.4
2025.00 17.9
2025.02 15.1
2025.03 12.3
2025.05 11.8
2025.07 13.2
2025.09 13.2
2025.11 12.3
2025.13 17.9
2025.15 24.0
2025.17 24.5
2025.19 24.8
2025.21 23.1
2025.22 28.4
2025.23 44.4
2025.25 43.9
2025.27 42.8
2025.28 40.0
2025.30 34.2
2025.32 32.3
2025.34 30.9
2025.36 19.8
2025.37 24.8
2025.39 23.1
2025.41 20.1
2025.43 23.1
2025.45 22.9
2025.47 17.3
2025.49 17.6
2025.51 18.1
2025.53 18.4
2025.55 16.8
2025.57 21.2
2025.58 15.7
2025.60 15.4
2025.62 14.0
2025.64 15.1
2025.66 15.7
2025.69 14.0
2025.71 14.0
2025.73 14.0
2025.75 18.7
2025.77 16.8
2025.79 14.0
2025.81 16.2
2025.83 16.8
2025.85 19.0
2025.86 20.6
2025.88 17.3
2025.90 14.3
2025.92 13.7
2025.95 12.9
2025.97 12.3
2025.99 12.1
2026.01 12.3
2026.03 12.9
2026.05 13.2
2026.07 14.0
2026.09 15.7
2026.11 14.5
2026.13 14.5
2026.15 22.9
2026.17 26.7
2026.19 28.9
2026.21 33.9
2026.23 25.6
2026.25 16.8
2026.27 15.4
2026.29 15.1
2026.31 14.8
2026.33 12.9
2026.35 12.3
2026.37 11.8
2026.38 8.7
2026.40 11.8
2026.41 12.1
2026.43 10.9
2026.45 9.0
2026.47 9.6
2026.49 7.81
};
\end{axis}

% ---------------- top pane: USDJPY (right scale) ----------------
\begin{axis}[tvbase, at={(49pt,354pt)}, height=392pt, ymin=66.878, ymax=173.30,
  xtick=\empty, ytick=\empty]
\addplot[tvtext!80, line width=0.6pt, dash pattern=on 0.8pt off 1.6pt] coordinates {(2005.282,162.622) (2027.66,162.622)};
\addplot[black, line width=1.8pt, line join=round, line cap=round] table {
2005.29 107.1
2005.30 104.5
2005.33 104.8
2005.35 107.4
2005.37 108.0
2005.39 107.7
2005.42 107.4
2005.43 108.3
2005.45 108.9
2005.48 111.3
2005.50 111.8
2005.52 111.6
2005.55 112.1
2005.57 111.8
2005.58 110.4
2005.60 109.2
2005.61 110.1
2005.64 109.8
2005.66 109.5
2005.68 111.3
2005.70 112.1
2005.73 113.3
2005.75 113.9
2005.77 115.7
2005.80 115.7
2005.82 118.0
2005.84 118.6
2005.86 119.2
2005.88 119.8
2005.90 120.4
2005.92 120.4
2005.94 115.7
2005.96 116.3
2005.98 117.4
2005.99 114.8
2006.01 114.2
2006.03 114.8
2006.05 116.9
2006.08 118.6
2006.10 117.7
2006.12 118.0
2006.14 116.6
2006.17 118.6
2006.19 116.0
2006.21 118.0
2006.23 118.3
2006.26 118.6
2006.28 116.9
2006.30 113.6
2006.33 111.8
2006.35 109.8
2006.37 111.6
2006.39 112.4
2006.42 113.6
2006.44 116.3
2006.46 114.8
2006.48 114.2
2006.51 113.9
2006.53 116.0
2006.55 114.5
2006.58 114.5
2006.60 115.7
2006.62 116.6
2006.64 116.9
2006.67 116.6
2006.69 116.9
2006.71 116.6
2006.73 118.0
2006.76 119.2
2006.78 118.0
2006.80 117.4
2006.82 117.7
2006.85 116.9
2006.87 116.3
2006.89 115.7
2006.92 116.3
2006.94 118.0
2006.96 118.6
2006.98 118.9
2007.01 120.4
2007.03 121.3
2007.05 121.6
2007.07 121.3
2007.10 121.6
2007.11 119.2
2007.13 120.7
2007.15 116.6
2007.17 117.4
2007.20 117.7
2007.22 118.3
2007.24 119.2
2007.26 118.3
2007.29 118.9
2007.31 119.8
2007.33 120.1
2007.35 120.7
2007.38 121.6
2007.40 121.9
2007.42 122.7
2007.45 123.6
2007.47 123.3
2007.49 123.0
2007.51 121.9
2007.54 120.1
2007.56 118.0
2007.58 118.0
2007.60 114.5
2007.63 115.4
2007.65 113.6
2007.67 113.0
2007.68 114.5
2007.70 115.1
2007.73 115.1
2007.75 116.6
2007.77 114.8
2007.79 114.2
2007.82 113.6
2007.84 110.7
2007.86 108.3
2007.89 110.4
2007.91 111.8
2007.93 113.9
2007.95 113.6
2007.98 112.1
2008.00 108.9
2008.02 106.8
2008.04 106.8
2008.07 106.6
2008.09 107.1
2008.11 107.4
2008.13 106.6
2008.15 103.0
2008.16 101.5
2008.18 98.9
2008.20 99.2
2008.23 99.8
2008.25 101.5
2008.26 102.1
2008.28 103.6
2008.30 104.5
2008.32 103.6
2008.35 103.9
2008.37 104.2
2008.39 105.7
2008.42 106.6
2008.43 107.7
2008.45 107.4
2008.47 106.2
2008.49 106.2
2008.51 106.6
2008.54 107.1
2008.56 108.9
2008.58 109.8
2008.60 110.4
2008.63 109.8
2008.65 108.0
2008.67 107.4
2008.70 107.4
2008.72 106.2
2008.74 105.1
2008.76 101.3
2008.78 100.1
2008.79 94.2
2008.81 98.3
2008.83 98.0
2008.85 97.1
2008.88 95.7
2008.90 94.8
2008.92 92.4
2008.94 89.5
2008.96 90.4
2008.98 91.5
2009.01 90.4
2009.03 89.5
2009.05 88.6
2009.07 90.1
2009.10 91.5
2009.12 94.2
2009.14 96.5
2009.16 98.0
2009.19 96.0
2009.21 96.8
2009.23 98.9
2009.26 100.1
2009.28 99.2
2009.30 98.3
2009.32 98.9
2009.35 96.2
2009.37 94.8
2009.39 95.1
2009.41 98.3
2009.44 97.4
2009.46 96.2
2009.48 95.3
2009.50 92.4
2009.53 93.9
2009.55 94.5
2009.57 94.8
2009.59 97.1
2009.60 94.8
2009.63 93.6
2009.65 91.8
2009.67 90.7
2009.69 90.7
2009.72 89.5
2009.74 89.8
2009.77 90.7
2009.79 91.8
2009.82 90.1
2009.84 89.8
2009.86 88.9
2009.88 86.3
2009.91 90.4
2009.93 91.2
2009.95 91.8
2009.97 92.7
2010.00 92.4
2010.02 90.7
2010.04 89.5
2010.06 89.5
2010.09 89.2
2010.11 91.0
2010.13 88.9
2010.16 90.1
2010.18 91.0
2010.20 93.0
2010.22 94.2
2010.25 93.9
2010.27 93.6
2010.29 93.9
2010.32 92.7
2010.34 91.8
2010.36 90.1
2010.38 91.0
2010.41 91.3
2010.43 90.7
2010.45 89.5
2010.47 88.3
2010.50 87.4
2010.52 86.5
2010.54 85.9
2010.56 85.9
2010.59 85.3
2010.61 85.1
2010.63 84.8
2010.66 83.9
2010.68 84.5
2010.70 85.3
2010.72 83.6
2010.75 81.8
2010.77 81.5
2010.79 81.2
2010.81 80.6
2010.84 81.8
2010.86 83.0
2010.88 83.6
2010.91 82.7
2010.93 83.3
2010.95 83.6
2010.97 81.2
2011.00 83.0
2011.03 82.7
2011.05 82.1
2011.08 81.8
2011.10 83.0
2011.12 83.3
2011.14 82.1
2011.17 82.7
2011.19 82.4
2011.20 80.6
2011.23 84.2
2011.25 84.5
2011.27 83.0
2011.30 81.8
2011.32 80.9
2011.34 80.6
2011.36 81.5
2011.39 80.3
2011.41 80.3
2011.43 80.6
2011.45 80.1
2011.48 80.6
2011.50 80.6
2011.52 79.2
2011.55 77.7
2011.57 76.5
2011.59 76.5
2011.61 76.8
2011.64 76.5
2011.66 76.6
2011.68 77.3
2011.70 76.5
2011.73 76.8
2011.75 77.1
2011.77 76.5
2011.79 76.4
2011.82 75.9
2011.84 77.7
2011.86 77.4
2011.89 77.7
2011.91 77.1
2011.93 77.5
2011.95 77.7
2011.98 77.4
2012.00 77.0
2012.02 77.0
2012.04 76.8
2012.07 76.5
2012.09 77.7
2012.11 79.5
2012.14 81.2
2012.16 82.1
2012.18 83.0
2012.20 83.0
2012.23 82.4
2012.25 81.5
2012.27 80.6
2012.29 80.6
2012.32 80.1
2012.34 79.5
2012.36 78.9
2012.39 78.9
2012.41 78.3
2012.43 78.9
2012.45 79.5
2012.48 80.3
2012.50 79.8
2012.52 78.9
2012.54 78.6
2012.57 78.4
2012.59 78.9
2012.61 79.2
2012.63 78.6
2012.66 78.3
2012.68 78.3
2012.70 78.0
2012.73 77.8
2012.75 78.3
2012.77 78.9
2012.79 79.5
2012.82 79.2
2012.84 80.6
2012.85 80.1
2012.88 81.5
2012.90 82.1
2012.92 82.4
2012.95 83.3
2012.97 84.2
2012.98 85.9
2013.01 88.9
2013.03 89.5
2013.05 90.7
2013.07 92.4
2013.09 92.7
2013.11 93.3
2013.13 93.3
2013.16 95.4
2013.18 95.7
2013.20 94.2
2013.23 94.2
2013.24 97.1
2013.26 98.3
2013.29 98.9
2013.31 97.7
2013.33 101.3
2013.35 102.7
2013.38 102.4
2013.40 100.4
2013.42 97.1
2013.45 93.9
2013.47 97.7
2013.49 100.7
2013.51 99.5
2013.54 100.4
2013.56 98.9
2013.57 98.3
2013.60 96.2
2013.62 97.7
2013.64 98.3
2013.66 98.6
2013.69 98.9
2013.71 99.2
2013.73 98.0
2013.76 97.4
2013.78 97.7
2013.80 97.4
2013.82 98.3
2013.85 98.6
2013.86 99.8
2013.88 101.5
2013.91 102.4
2013.93 103.0
2013.95 103.9
2013.97 104.5
2013.99 105.1
2014.01 104.5
2014.04 103.9
2014.06 102.1
2014.08 101.8
2014.10 102.1
2014.13 101.8
2014.15 101.8
2014.17 102.4
2014.19 101.3
2014.22 102.4
2014.24 103.0
2014.26 101.8
2014.29 102.1
2014.31 101.8
2014.33 102.0
2014.35 101.8
2014.38 101.5
2014.40 101.8
2014.42 102.1
2014.44 101.8
2014.47 101.5
2014.49 101.2
2014.51 101.2
2014.53 101.5
2014.56 102.4
2014.58 102.1
2014.60 102.1
2014.63 103.0
2014.65 104.2
2014.67 106.2
2014.69 107.1
2014.71 108.3
2014.73 109.5
2014.75 109.2
2014.78 107.4
2014.79 106.8
2014.81 109.5
2014.82 112.1
2014.85 113.6
2014.86 115.4
2014.88 118.9
2014.91 120.1
2014.93 121.3
2014.95 120.1
2014.97 120.1
2015.00 120.1
2015.02 118.9
2015.04 117.4
2015.07 117.4
2015.09 118.3
2015.11 118.3
2015.13 118.6
2015.16 118.9
2015.18 120.7
2015.20 119.5
2015.22 118.9
2015.25 118.9
2015.27 118.9
2015.29 118.9
2015.32 119.8
2015.34 119.5
2015.36 120.1
2015.38 122.4
2015.40 124.8
2015.41 125.4
2015.43 123.0
2015.45 122.7
2015.47 123.3
2015.50 122.7
2015.52 123.3
2015.54 123.9
2015.56 123.9
2015.59 123.9
2015.60 124.2
2015.63 122.4
2015.65 120.7
2015.66 118.9
2015.69 120.4
2015.71 120.1
2015.73 120.1
2015.75 119.8
2015.78 120.1
2015.80 119.5
2015.82 122.7
2015.84 123.0
2015.87 123.0
2015.89 122.7
2015.91 123.0
2015.94 121.3
2015.96 120.1
2015.98 120.1
2016.00 118.3
2016.03 116.8
2016.05 120.1
2016.07 120.7
2016.09 117.1
2016.11 112.7
2016.13 113.6
2016.16 113.6
2016.18 113.6
2016.20 111.8
2016.22 112.1
2016.25 110.1
2016.27 108.3
2016.29 109.8
2016.31 106.2
2016.33 107.7
2016.35 109.2
2016.37 110.1
2016.40 110.1
2016.42 107.1
2016.44 103.6
2016.47 102.4
2016.49 102.1
2016.50 100.4
2016.53 104.8
2016.55 105.7
2016.56 103.9
2016.59 101.8
2016.61 100.9
2016.63 100.1
2016.65 101.2
2016.68 103.6
2016.70 102.4
2016.72 100.9
2016.75 102.4
2016.77 103.6
2016.79 104.2
2016.81 104.2
2016.84 103.0
2016.86 106.5
2016.87 112.4
2016.90 113.6
2016.92 116.0
2016.93 117.4
2016.95 117.1
2016.98 116.6
2017.00 114.8
2017.02 113.6
2017.03 114.2
2017.05 114.8
2017.06 112.7
2017.08 113.0
2017.11 112.4
2017.13 112.1
2017.14 113.6
2017.17 114.5
2017.19 112.4
2017.20 111.6
2017.23 111.3
2017.25 110.7
2017.27 108.6
2017.28 111.6
2017.30 112.4
2017.33 113.0
2017.34 113.0
2017.36 111.8
2017.37 111.3
2017.39 111.0
2017.42 110.4
2017.44 111.0
2017.46 112.1
2017.48 113.6
2017.51 111.8
2017.53 111.0
2017.55 110.4
2017.58 110.7
2017.60 109.2
2017.62 109.2
2017.64 109.5
2017.66 107.7
2017.67 110.1
2017.70 111.6
2017.72 112.1
2017.74 112.4
2017.77 111.8
2017.79 113.3
2017.81 113.6
2017.83 113.0
2017.86 112.1
2017.88 111.6
2017.90 113.0
2017.92 113.0
2017.95 112.7
2017.97 113.0
2017.99 112.1
2018.01 111.0
2018.04 108.6
2018.06 109.5
2018.08 108.0
2018.11 106.0
2018.13 105.7
2018.15 105.7
2018.17 106.6
2018.20 104.8
2018.22 106.0
2018.24 106.6
2018.26 107.1
2018.29 108.6
2018.31 108.9
2018.33 109.2
2018.36 110.4
2018.38 109.2
2018.40 109.5
2018.42 110.1
2018.45 110.4
2018.47 110.7
2018.49 110.4
2018.51 112.1
2018.54 110.7
2018.56 111.3
2018.58 110.4
2018.61 111.0
2018.63 111.0
2018.65 110.7
2018.67 111.0
2018.70 112.1
2018.72 113.0
2018.74 113.3
2018.76 112.1
2018.79 112.1
2018.81 113.6
2018.83 113.0
2018.85 113.3
2018.88 113.0
2018.90 113.3
2018.92 112.4
2018.95 111.3
2018.97 108.9
2018.99 108.6
2019.01 109.2
2019.04 109.2
2019.06 109.5
2019.08 110.1
2019.10 110.7
2019.13 111.6
2019.15 111.3
2019.17 111.6
2019.20 110.1
2019.22 111.3
2019.24 111.7
2019.26 111.7
2019.29 111.4
2019.31 110.7
2019.33 109.8
2019.35 109.2
2019.38 108.3
2019.40 108.0
2019.42 108.3
2019.45 107.4
2019.47 108.0
2019.49 108.3
2019.51 108.0
2019.54 107.4
2019.56 106.0
2019.58 105.7
2019.60 105.4
2019.63 106.6
2019.65 106.8
2019.67 107.1
2019.70 107.7
2019.72 107.4
2019.74 107.1
2019.76 108.3
2019.79 108.0
2019.81 108.9
2019.83 108.3
2019.85 108.3
2019.88 108.9
2019.90 108.6
2019.92 109.2
2019.95 108.9
2019.97 109.2
2019.99 108.9
2020.01 109.8
2020.04 108.9
2020.06 108.3
2020.08 110.1
2020.10 110.7
2020.12 111.3
2020.14 105.4
2020.16 107.4
2020.19 108.9
2020.20 110.4
2020.23 108.0
2020.25 108.3
2020.27 107.4
2020.29 106.8
2020.32 106.6
2020.34 106.8
2020.36 107.7
2020.38 109.2
2020.41 108.0
2020.43 107.1
2020.45 106.8
2020.48 107.1
2020.50 106.6
2020.52 106.2
2020.54 105.7
2020.57 105.4
2020.59 106.0
2020.61 104.8
2020.63 105.4
2020.66 105.4
2020.68 105.1
2020.70 105.4
2020.73 105.1
2020.75 105.1
2020.77 104.8
2020.79 104.2
2020.82 103.9
2020.84 103.6
2020.86 104.2
2020.88 103.9
2020.91 103.9
2020.93 103.6
2020.95 103.3
2020.97 103.6
2021.00 103.3
2021.02 103.6
2021.04 103.9
2021.07 104.5
2021.09 105.1
2021.11 106.0
2021.13 107.1
2021.16 108.3
2021.18 108.9
2021.20 109.2
2021.22 109.8
2021.25 108.9
2021.27 108.0
2021.29 108.6
2021.32 109.5
2021.34 110.1
2021.36 109.8
2021.38 110.1
2021.41 110.4
2021.43 111.0
2021.45 110.7
2021.47 110.4
2021.50 110.1
2021.52 110.1
2021.54 110.4
2021.57 109.8
2021.59 110.1
2021.61 109.8
2021.63 109.8
2021.66 109.8
2021.68 110.1
2021.70 111.3
2021.72 112.1
2021.75 113.6
2021.77 113.9
2021.79 113.3
2021.81 113.6
2021.84 113.6
2021.86 113.3
2021.88 113.0
2021.91 112.7
2021.93 113.3
2021.95 114.2
2021.97 115.1
2022.00 114.8
2022.02 113.6
2022.03 114.8
2022.06 115.1
2022.08 115.1
2022.10 114.9
2022.13 114.9
2022.14 114.8
2022.16 116.0
2022.18 121.8
2022.20 122.1
2022.22 122.4
2022.24 124.2
2022.25 126.0
2022.27 128.3
2022.29 129.2
2022.31 130.1
2022.34 128.3
2022.36 127.4
2022.38 126.8
2022.40 132.4
2022.41 134.5
2022.44 134.8
2022.46 135.1
2022.48 135.1
2022.50 138.3
2022.53 136.6
2022.55 133.3
2022.57 133.3
2022.59 134.8
2022.63 137.2
2022.65 140.1
2022.67 142.5
2022.69 142.8
2022.71 143.3
2022.73 145.1
2022.75 146.9
2022.77 148.3
2022.79 147.5
2022.81 146.6
2022.83 143.0
2022.85 138.6
2022.87 140.1
2022.89 134.5
2022.92 136.3
2022.94 136.6
2022.96 133.6
2022.97 131.0
2022.99 131.3
2023.00 130.1
2023.02 127.7
2023.03 129.5
2023.05 130.1
2023.07 131.0
2023.09 131.6
2023.11 134.5
2023.13 136.3
2023.15 136.0
2023.17 135.4
2023.19 132.1
2023.21 130.7
2023.23 132.1
2023.25 131.8
2023.27 133.6
2023.29 133.9
2023.30 136.0
2023.33 135.4
2023.35 134.8
2023.37 137.7
2023.39 140.4
2023.41 140.1
2023.43 139.2
2023.45 142.2
2023.47 143.6
2023.49 143.9
2023.51 138.9
2023.52 141.6
2023.54 141.3
2023.56 141.9
2023.59 144.8
2023.61 145.4
2023.63 146.0
2023.65 146.3
2023.67 147.7
2023.69 148.0
2023.71 148.6
2023.73 149.2
2023.75 149.5
2023.77 149.5
2023.79 149.8
2023.81 149.2
2023.83 151.3
2023.85 150.1
2023.87 149.5
2023.89 147.7
2023.91 144.5
2023.93 142.7
2023.95 141.9
2023.98 141.0
2023.99 144.5
2024.01 144.8
2024.03 147.7
2024.05 148.0
2024.07 148.3
2024.09 149.2
2024.11 150.1
2024.13 150.4
2024.15 149.5
2024.17 147.2
2024.19 149.5
2024.22 151.3
2024.24 151.6
2024.26 152.5
2024.28 155.4
2024.30 158.0
2024.31 154.5
2024.32 153.0
2024.34 155.7
2024.37 155.7
2024.39 156.9
2024.41 157.2
2024.43 156.9
2024.45 159.2
2024.46 160.7
2024.48 160.7
2024.50 160.7
2024.52 158.0
2024.53 157.2
2024.55 152.5
2024.57 146.6
2024.59 146.3
2024.61 144.2
2024.63 146.0
2024.65 143.6
2024.67 140.7
2024.69 143.6
2024.71 142.2
2024.73 142.2
2024.74 148.3
2024.76 148.9
2024.78 150.1
2024.80 152.2
2024.82 152.8
2024.84 154.2
2024.86 154.2
2024.88 154.5
2024.89 149.8
2024.91 150.4
2024.93 153.9
2024.95 156.0
2024.97 157.5
2024.99 157.5
2025.02 157.2
2025.04 156.3
2025.06 155.4
2025.08 151.6
2025.10 151.6
2025.12 150.1
2025.14 149.2
2025.16 148.0
2025.18 148.3
2025.20 149.5
2025.22 148.0
2025.24 145.4
2025.26 143.0
2025.28 141.9
2025.30 144.8
2025.32 145.1
2025.34 145.4
2025.36 145.1
2025.37 142.4
2025.38 144.5
2025.41 144.5
2025.43 143.9
2025.45 145.7
2025.47 144.5
2025.49 144.5
2025.51 146.6
2025.53 148.6
2025.55 147.5
2025.57 147.8
2025.59 147.5
2025.61 147.2
2025.63 146.9
2025.65 147.2
2025.67 147.5
2025.69 148.0
2025.71 149.2
2025.73 147.5
2025.75 150.7
2025.78 151.3
2025.80 153.0
2025.82 153.6
2025.84 153.9
2025.86 156.0
2025.88 156.0
2025.90 155.4
2025.92 156.3
2025.94 157.5
2025.96 157.2
2025.98 156.6
2026.00 157.8
2026.02 157.8
2026.04 156.9
2026.06 154.5
2026.08 157.2
2026.09 152.8
2026.11 154.2
2026.13 155.7
2026.15 157.8
2026.17 159.5
2026.19 159.5
2026.21 160.1
2026.23 159.5
2026.25 159.2
2026.27 158.6
2026.29 158.9
2026.31 157.2
2026.33 156.6
2026.35 158.0
2026.37 158.9
2026.39 159.5
2026.41 160.1
2026.43 160.4
2026.45 161.6
2026.47 162.2
2026.49 162.622
};
\addplot[only marks, mark=*, mark size=2.6pt, black] coordinates {(2026.49,162.622)};
\end{axis}

% ---------------- pane separators and frame ----------------
\draw[tvframe, line width=0.6pt] (8pt,354pt) -- (1271.5pt,354pt);
\draw[tvframe, line width=0.6pt] (8pt,328pt) -- (1271.5pt,328pt);
\draw[tvframe, line width=0.7pt, rounded corners=2pt] (8pt,49pt) rectangle (1271.5pt,746pt);

% ---------------- header ----------------
\node[anchor=west, inner sep=0pt, font=\fontsize{10.25}{12}\selectfont, text=tvtext] at (8pt,755.5pt) {Jay1104 created with TradingView.com, Jun 30, 2026 18:24 UTC-4};

% legend row
\draw[tvframe, line width=0.6pt, rounded corners=3pt, fill=white] (11pt,722pt) rectangle (47pt,742.5pt);
\node[inner sep=0pt, font=\fontsize{10}{12}\selectfont, text=tvtext] at (29pt,732.3pt) {point};
\node[anchor=west, inner sep=0pt, font=\fontsize{9.7}{12}\selectfont, text=tvtext] at (56pt,732.5pt) {COR3M\hspace{2.3pt}·\hspace{2.3pt}CBOE\hspace{4.5pt}\textcolor{tvblue}{7.81\hspace{4.5pt}−2.14 (−21.51\%)}};
\draw[tvframe, line width=0.6pt, rounded corners=3pt, fill=white] (1221pt,722pt) rectangle (1269pt,742.5pt);
\node[inner sep=0pt, font=\fontsize{10}{12}\selectfont, text=tvtext] at (1245pt,732.3pt) {JPY};

\node[anchor=west, inner sep=0pt, font=\fontsize{10}{12}\selectfont, text=tvtext] at (56pt,341pt) {RSI (14, close)\hspace{5pt}\textcolor{rsipurple}{66.53}\hspace{5pt}\textcolor{rsiyellow}{59.26}};
\node[anchor=west, inner sep=0pt, font=\fontsize{10}{12}\selectfont, text=tvtext] at (56pt,314.5pt) {CC (COR3M, close, 52)\hspace{5pt}\textcolor{ccblue}{−0.06}};

% ---------------- price badges ----------------
\fill[black, rounded corners=1.5pt] (1218pt,700.5pt) rectangle (1267.5pt,713.5pt);
\node[inner sep=0pt, font=\fontsize{10.3}{12}\selectfont, text=white] at (1242.8pt,707pt) {162.622};
\fill[tvblue, rounded corners=1.5pt] (17.5pt,379.5pt) rectangle (49.5pt,393.5pt);
\node[inner sep=0pt, font=\fontsize{10.3}{12}\selectfont, text=white] at (32pt,386.5pt) {7.81};
\fill[ccblue, rounded corners=1.5pt] (1218pt,184.5pt) rectangle (1263pt,197.5pt);
\node[inner sep=0pt, font=\fontsize{10.3}{12}\selectfont, text=white] at (1240.5pt,191pt) {−0.06};

% ---------------- Z / A buttons ----------------
\fill[btnfill] (29pt,59.7pt) circle (7.5pt);
\node[inner sep=0pt, font=\fontsize{8.5}{10}\selectfont, text=tvgray] at (29pt,59.7pt) {Z};
\fill[btnfill] (1245pt,59.3pt) circle (7.5pt);
\node[inner sep=0pt, font=\fontsize{8.5}{10}\selectfont, text=tvgray] at (1245pt,59.3pt) {A};

% ---------------- TradingView logo ----------------
\fill[tvtext] (9pt,30.5pt) -- (20pt,30.5pt) -- (20pt,19pt) -- (14pt,19pt) -- (14pt,24.5pt) -- (9pt,24.5pt) -- cycle;
\fill[tvtext] (23.9pt,28pt) circle (2.2pt);
\fill[tvtext] (23.5pt,19pt) -- (29pt,19pt) -- (33.5pt,30.5pt) -- (28.3pt,30.5pt) -- cycle;
\node[anchor=base west, inner sep=0pt, font=\bfseries\fontsize{16.2}{18}\selectfont, text=tvtext] at (39.5pt,19pt) {TradingView};
\end{tikzpicture}
\end{document}
